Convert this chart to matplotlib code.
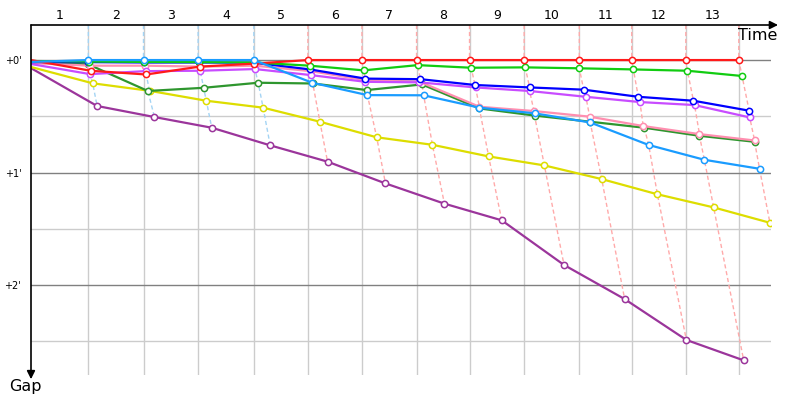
import matplotlib.pyplot as plt
import numpy as np

# time axis in lap units (leader crossing ~ integer), gap in seconds
# index 0 = start, then one value per lap completed
t_red = [0, 1.09, 2.11, 3.09, 4.09, 5.07, 6.06, 7.06, 8.03, 9.03, 10.04, 11.00, 11.99, 12.96]
gap_red = [0, 5.7, 7.7, 3.5, 1.9, 0, 0, 0, 0, 0, 0, 0, 0, 0]

t_lime = [0, 1.06, 2.07, 3.08, 4.08, 5.10, 6.09, 7.08, 8.06, 9.05, 10.04, 11.03, 12.02, 13.02]
gap_lime = [0.5, 0.8, 1.0, 1.1, 1.3, 3.0, 5.5, 2.7, 4.1, 3.9, 4.4, 5.0, 5.7, 8.5]

t_blue = [0, 1.05, 2.06, 3.07, 4.08, 5.11, 6.12, 7.13, 8.13, 9.13, 10.12, 11.12, 12.13, 13.15]
gap_blue = [1.1, 1.1, 1.3, 1.3, 1.4, 5.0, 9.9, 10.2, 13.3, 14.6, 15.8, 19.6, 21.7, 27.0]

t_violet = [0, 1.08, 2.10, 3.10, 4.10, 5.12, 6.12, 7.11, 8.14, 9.13, 10.16, 11.15, 12.15, 13.16]
gap_violet = [2.1, 7.5, 5.9, 5.7, 4.8, 8.0, 11.6, 11.9, 14.6, 16.5, 19.6, 22.4, 24.0, 30.6]

t_pink = [0, 1.08, 2.08, 3.10, 4.10, 5.12, 6.12, 7.11, 8.21, 9.21, 10.23, 11.21, 12.24, 13.25]
gap_pink = [1.6, 3.0, 3.0, 3.5, 3.0, 5.9, 10.7, 11.5, 24.9, 27.2, 30.2, 35.2, 39.5, 42.9]

t_dkgreen = [0, 1.05, 2.14, 3.16, 4.16, 5.16, 6.15, 7.16, 8.21, 9.22, 10.24, 11.23, 12.24, 13.25]
gap_dkgreen = [1.3, 2.3, 16.5, 14.8, 12.1, 12.5, 16.0, 13.0, 25.8, 29.6, 32.9, 36.1, 40.4, 43.6]

t_ltblue = [0, 1.05, 2.06, 3.06, 4.08, 5.15, 6.16, 7.19, 8.21, 9.22, 10.24, 11.31, 12.33, 13.34]
gap_ltblue = [1.0, 0, 0, 0, 0, 12.1, 18.7, 18.8, 25.4, 28.4, 33.3, 45.3, 53.2, 58.0]

t_yellow = [0, 1.13, 2.17, 3.21, 4.25, 5.29, 6.33, 7.35, 8.38, 9.40, 10.45, 11.47, 12.50, 13.53]
gap_yellow = [3.7, 12.4, 16.4, 21.7, 25.4, 32.9, 41.2, 45.2, 51.4, 56.2, 63.5, 71.6, 78.6, 86.8]

t_purple = [0, 1.21, 2.26, 3.31, 4.38, 5.43, 6.49, 7.57, 8.62, 9.76, 10.87, 12.00, 13.05]
gap_purple = [4.3, 24.5, 30.4, 36.1, 45.5, 54.2, 65.8, 76.6, 85.5, 109.3, 127.5, 149.3, 160.2]

n_laps = 13
gap_ticks = [0, 60, 120]
gap_tick_labels = ["+0'", "+1'", "+2'"]

drivers = [
    (t_purple, gap_purple, '#9b359b'),
    (t_yellow, gap_yellow, '#dddd00'),
    (t_dkgreen, gap_dkgreen, '#2e962e'),
    (t_pink, gap_pink, '#ff8fb0'),
    (t_violet, gap_violet, '#c84cff'),
    (t_blue, gap_blue, '#0000ff'),
    (t_lime, gap_lime, '#11cc11'),
    (t_red, gap_red, '#ff1a1a'),
    (t_ltblue, gap_ltblue, '#1a9cff'),
]
connector_color = {'#ff1a1a': '#ffaaaa', '#1a9cff': '#a4d4f4'}

fig = plt.figure(figsize=(8, 4), dpi=100)
ax = fig.add_axes([31 / 800, 25 / 400, 740 / 800, 350 / 400])
ytop, ybot = -18.7, 168
ax.set_xlim(0, 13.55)
ax.set_ylim(ybot, ytop)

# leader of each lap -> vertical grid + lap connector
lap_x = []
for k in range(1, n_laps + 1):
    pts = [(t[k], g[k], c) for t, g, c in drivers if len(t) > k]
    pts.sort(key=lambda p: p[1])
    lead = pts[0]
    lap_x.append(lead[0])
    xs = [lead[0]] + [p[0] for p in pts]
    ys = [ytop] + [p[1] for p in pts]
    ax.plot(xs, ys, color=connector_color[lead[2]], lw=1, dashes=(3, 2), zorder=2)
    ax.axvline(lead[0], color='#cccccc', lw=1, zorder=1)

for g in [30, 90, 150]:
    ax.axhline(g, color='#cccccc', lw=1, zorder=1)
for g in gap_ticks:
    ax.axhline(g, color='#808080', lw=1, zorder=1)

for t, g, c in drivers:
    ax.plot(t, g, color=c, lw=1.6, marker='o', ms=4.5, mfc='white', mec=c,
            mew=1.1, markevery=list(range(1, len(t))), zorder=3)

# lap labels centred between grid lines
edges = [0] + lap_x
mids = [(edges[i] + edges[i + 1]) / 2 for i in range(n_laps)]
ax.xaxis.tick_top()
ax.set_xticks(mids)
ax.set_xticklabels([str(i) for i in range(1, n_laps + 1)], fontsize=9)
ax.tick_params(axis='x', length=0, pad=2)
ax.set_yticks(gap_ticks)
ax.set_yticklabels(gap_tick_labels, fontsize=7)
ax.tick_params(axis='y', length=0, pad=7)

for s in ax.spines.values():
    s.set_visible(False)

# axis arrows
ax.annotate('', xy=(1.0095, 1), xytext=(0, 1), xycoords='axes fraction',
            arrowprops=dict(arrowstyle='-|>', color='black', lw=1.2, mutation_scale=12,
                            shrinkA=0, shrinkB=0), annotation_clip=False)
ax.annotate('', xy=(0, -0.012), xytext=(0, 1), xycoords='axes fraction',
            arrowprops=dict(arrowstyle='-|>', color='black', lw=1.2, mutation_scale=12,
                            shrinkA=0, shrinkB=0), annotation_clip=False)

fig.text(777 / 800, 1 - 35 / 400, 'Time', fontsize=11.5, ha='right', va='center')
fig.text(25 / 800, 1 - 386 / 400, 'Gap', fontsize=11.5, ha='center', va='center')

plt.savefig('out.png', dpi=100)
